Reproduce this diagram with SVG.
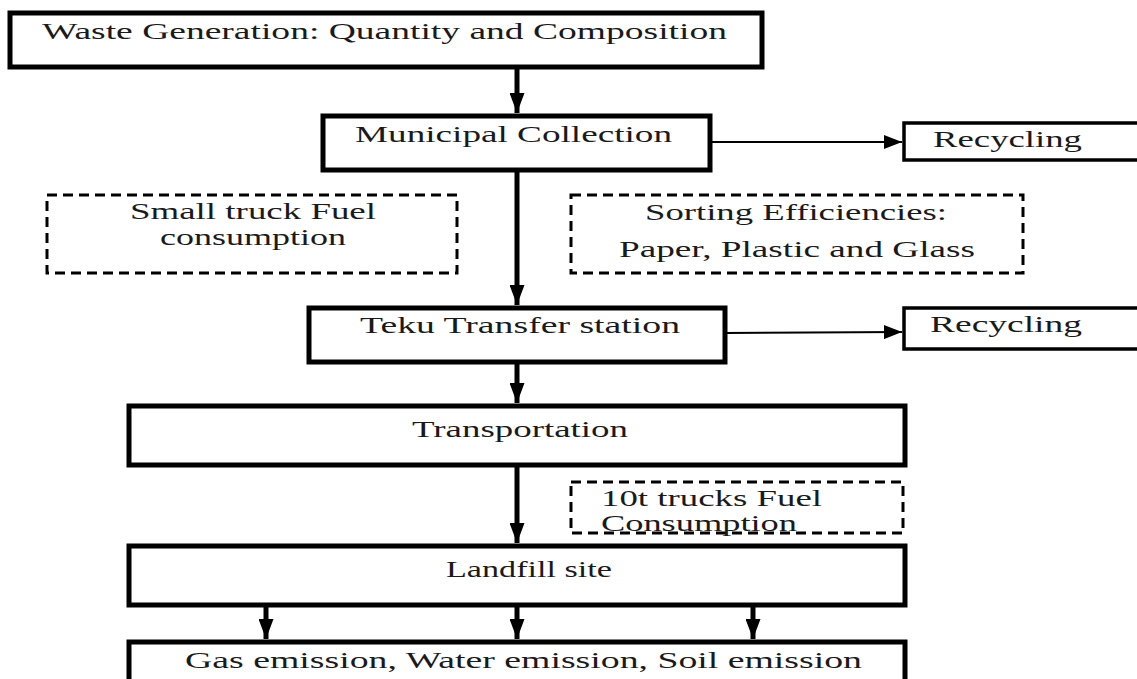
<svg xmlns="http://www.w3.org/2000/svg" width="1137" height="679" viewBox="0 0 1137 679">
<defs>
<style>
.box{fill:#fff;stroke:#000;stroke-width:5}
.rbox{fill:#fff;stroke:#000;stroke-width:3.5}
.dbox{fill:none;stroke:#000;stroke-width:3;stroke-dasharray:10 6}
.t{font-family:"Liberation Serif","Times New Roman",serif;font-size:24px;fill:#1a1a1a}
.vl{stroke:#000;stroke-width:5;fill:none}
.hl{stroke:#000;stroke-width:2;fill:none}
</style>
<marker id="ah" markerWidth="4" markerHeight="3" refX="4" refY="1.5" orient="auto" markerUnits="strokeWidth"><path d="M0,0 L4,1.5 L0,3 z" fill="#000"/></marker>
<marker id="ahs" markerWidth="9" markerHeight="7" refX="9" refY="3.5" orient="auto" markerUnits="strokeWidth"><path d="M0,0 L9,3.5 L0,7 z" fill="#000"/></marker>
</defs>
<rect width="1137" height="679" fill="#fff"/>
<g id="connectors">
<line class="vl" x1="517" y1="68" x2="517" y2="113" marker-end="url(#ah)"/>
<line class="vl" x1="517" y1="171" x2="517" y2="305" marker-end="url(#ah)"/>
<line class="vl" x1="517" y1="362" x2="517" y2="403" marker-end="url(#ah)"/>
<line class="vl" x1="517" y1="466" x2="517" y2="543" marker-end="url(#ah)"/>
<line class="vl" x1="266" y1="606" x2="266" y2="639" marker-end="url(#ah)"/>
<line class="vl" x1="517" y1="606" x2="517" y2="639" marker-end="url(#ah)"/>
<line class="vl" x1="753" y1="606" x2="753" y2="639" marker-end="url(#ah)"/>
<line class="hl" x1="710" y1="142" x2="902" y2="142" marker-end="url(#ahs)"/>
<line class="hl" x1="725" y1="333" x2="902" y2="332" marker-end="url(#ahs)"/>
</g>
<g id="n-waste">
<rect class="box" x="10" y="13" width="752" height="54"/>
<text class="t" x="42" y="39" textLength="685" lengthAdjust="spacingAndGlyphs">Waste Generation: Quantity and Composition</text>
</g>
<g id="n-municipal">
<rect class="box" x="323" y="116" width="387" height="54"/>
<text class="t" x="355" y="142" textLength="317" lengthAdjust="spacingAndGlyphs">Municipal Collection</text>
</g>
<g id="n-recycling1">
<rect class="rbox" x="904" y="123" width="240" height="37"/>
<text class="t" x="933" y="147" textLength="149" lengthAdjust="spacingAndGlyphs">Recycling</text>
</g>
<g id="n-smalltruck">
<rect class="dbox" x="47" y="195" width="410" height="78"/>
<text class="t" x="130" y="219" textLength="246" lengthAdjust="spacingAndGlyphs">Small truck Fuel</text>
<text class="t" x="160" y="245" textLength="186" lengthAdjust="spacingAndGlyphs">consumption</text>
</g>
<g id="n-sorting">
<rect class="dbox" x="571" y="195" width="452" height="78"/>
<text class="t" x="645" y="220" textLength="302" lengthAdjust="spacingAndGlyphs">Sorting Efficiencies:</text>
<text class="t" x="619" y="257" textLength="356" lengthAdjust="spacingAndGlyphs">Paper, Plastic and Glass</text>
</g>
<g id="n-teku">
<rect class="box" x="309" y="308" width="416" height="54"/>
<text class="t" x="360" y="333" textLength="320" lengthAdjust="spacingAndGlyphs">Teku Transfer station</text>
</g>
<g id="n-recycling2">
<rect class="rbox" x="904" y="308" width="240" height="41"/>
<text class="t" x="930" y="332" textLength="152" lengthAdjust="spacingAndGlyphs">Recycling</text>
</g>
<g id="n-transport">
<rect class="box" x="129" y="406" width="776" height="59"/>
<text class="t" x="412" y="437" textLength="216" lengthAdjust="spacingAndGlyphs">Transportation</text>
</g>
<g id="n-10t">
<rect class="dbox" x="571" y="482" width="332" height="51"/>
<text class="t" x="601" y="506" textLength="221" lengthAdjust="spacingAndGlyphs">10t trucks Fuel</text>
<text class="t" x="601" y="531" textLength="196" lengthAdjust="spacingAndGlyphs">Consumption</text>
</g>
<g id="n-landfill">
<rect class="box" x="129" y="546" width="776" height="59"/>
<text class="t" x="446" y="577" textLength="166" lengthAdjust="spacingAndGlyphs">Landfill site</text>
</g>
<g id="n-emission">
<rect class="box" x="129" y="642" width="776" height="60"/>
<text class="t" x="185" y="668" textLength="677" lengthAdjust="spacingAndGlyphs">Gas emission, Water emission, Soil emission</text>
</g>
</svg>
